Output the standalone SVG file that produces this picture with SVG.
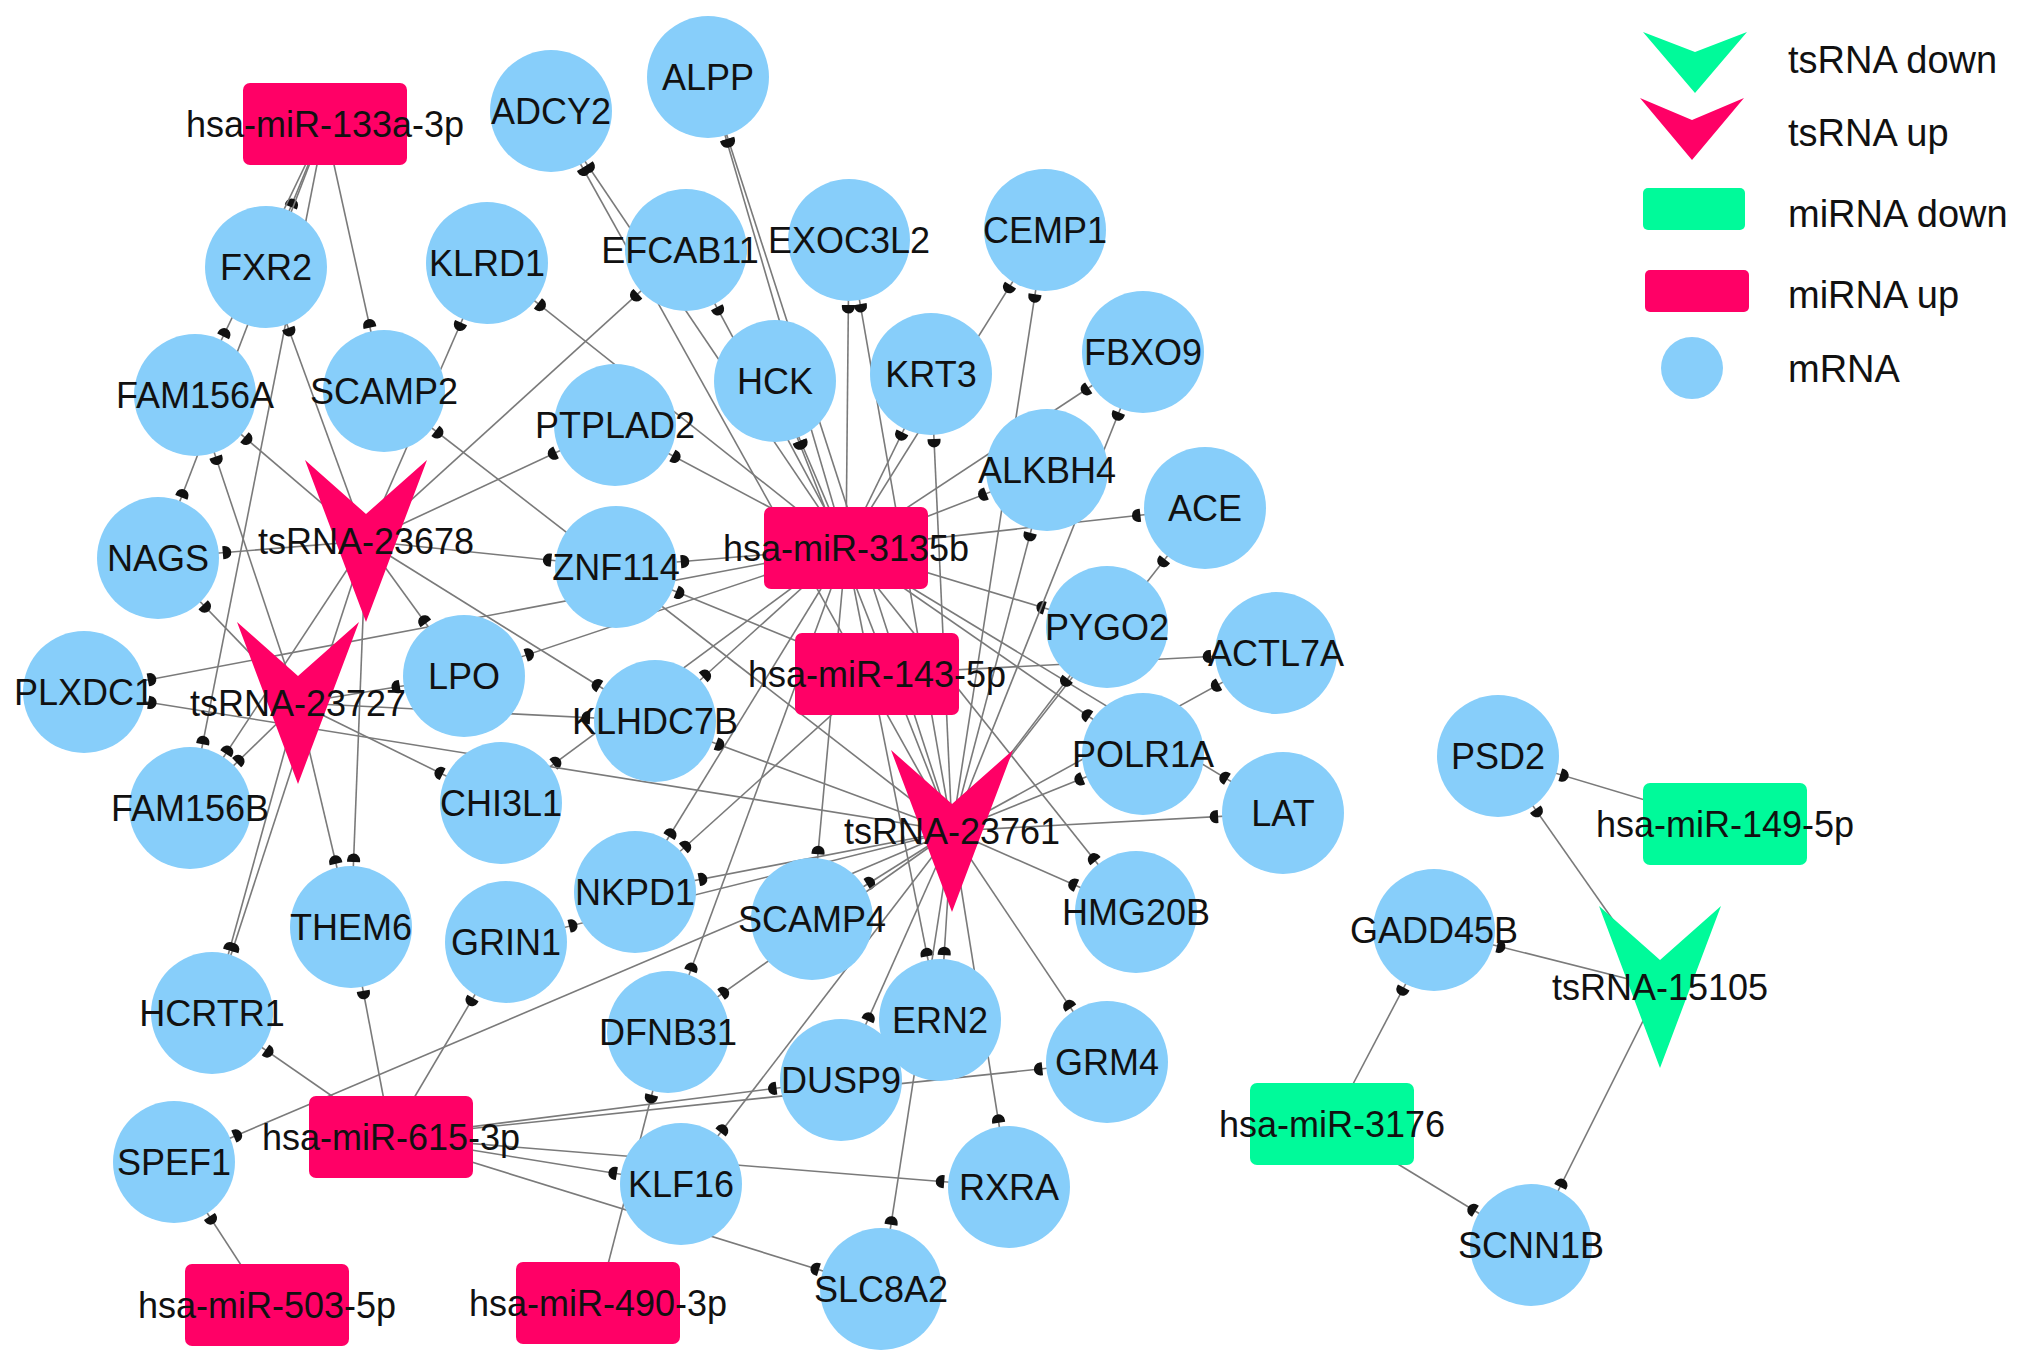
<svg xmlns="http://www.w3.org/2000/svg" width="2031" height="1365" viewBox="0 0 2031 1365">
<style>
.bg{fill:#ffffff}
.mrna{fill:#87CEFA}
.up{fill:#FF0066}
.down{fill:#00FA9A}
.lbl{font-family:"Liberation Sans",Arial,Helvetica,sans-serif;font-size:36px;fill:#111111;text-anchor:middle}
.leg{font-family:"Liberation Sans",Arial,Helvetica,sans-serif;font-size:38px;fill:#111111}
#edges line{stroke:#7a7a7a;stroke-width:1.6;marker-end:url(#tbar)}
</style>
<defs>
<marker id="tbar" markerUnits="userSpaceOnUse" markerWidth="20" markerHeight="20" refX="65" refY="0" orient="auto" style="overflow:visible">
<path d="M0,-6.5 V6.5 H-2 A6.5,6.5 0 0 1 -2,-6.5 Z" fill="#111"/>
</marker>
</defs>
<rect class="bg" x="0" y="0" width="2031" height="1365"/>
<g id="edges">
<!-- miR-133a-3p -->
<line x1="325" y1="124" x2="266" y2="267"/>
<line x1="325" y1="124" x2="195" y2="395"/>
<line x1="325" y1="124" x2="158" y2="558"/>
<line x1="325" y1="124" x2="384" y2="391"/>
<line x1="325" y1="124" x2="190" y2="808"/>
<!-- tsRNA-23678 -->
<line x1="366" y1="541" x2="266" y2="267"/>
<line x1="366" y1="541" x2="195" y2="395"/>
<line x1="366" y1="541" x2="158" y2="558"/>
<line x1="366" y1="541" x2="616" y2="567"/>
<line x1="366" y1="541" x2="615" y2="425"/>
<line x1="366" y1="541" x2="686" y2="250"/>
<line x1="366" y1="541" x2="487" y2="263"/>
<line x1="366" y1="541" x2="464" y2="676"/>
<line x1="366" y1="541" x2="655" y2="721"/>
<line x1="366" y1="541" x2="190" y2="808"/>
<line x1="366" y1="541" x2="351" y2="927"/>
<line x1="366" y1="541" x2="212" y2="1013"/>
<!-- tsRNA-23727 -->
<line x1="298" y1="703" x2="158" y2="558"/>
<line x1="298" y1="703" x2="195" y2="395"/>
<line x1="298" y1="703" x2="190" y2="808"/>
<line x1="298" y1="703" x2="464" y2="676"/>
<line x1="298" y1="703" x2="501" y2="803"/>
<line x1="298" y1="703" x2="351" y2="927"/>
<line x1="298" y1="703" x2="212" y2="1013"/>
<line x1="298" y1="703" x2="655" y2="721"/>
<!-- hsa-miR-3135b -->
<line x1="846" y1="548" x2="551" y2="111"/>
<line x1="846" y1="548" x2="708" y2="77"/>
<line x1="846" y1="548" x2="686" y2="250"/>
<line x1="846" y1="548" x2="849" y2="240"/>
<line x1="846" y1="548" x2="1045" y2="230"/>
<line x1="846" y1="548" x2="775" y2="381"/>
<line x1="846" y1="548" x2="931" y2="374"/>
<line x1="846" y1="548" x2="1143" y2="352"/>
<line x1="846" y1="548" x2="1047" y2="470"/>
<line x1="846" y1="548" x2="1205" y2="508"/>
<line x1="846" y1="548" x2="1107" y2="627"/>
<line x1="846" y1="548" x2="1143" y2="754"/>
<line x1="846" y1="548" x2="1283" y2="813"/>
<line x1="846" y1="548" x2="1136" y2="912"/>
<line x1="846" y1="548" x2="615" y2="425"/>
<line x1="846" y1="548" x2="487" y2="263"/>
<line x1="846" y1="548" x2="616" y2="567"/>
<line x1="846" y1="548" x2="464" y2="676"/>
<line x1="846" y1="548" x2="655" y2="721"/>
<line x1="846" y1="548" x2="501" y2="803"/>
<line x1="846" y1="548" x2="84" y2="692"/>
<line x1="846" y1="548" x2="635" y2="892"/>
<line x1="846" y1="548" x2="668" y2="1032"/>
<line x1="846" y1="548" x2="812" y2="919"/>
<line x1="846" y1="548" x2="940" y2="1020"/>
<!-- tsRNA-23761 -->
<line x1="952" y1="831" x2="551" y2="111"/>
<line x1="952" y1="831" x2="708" y2="77"/>
<line x1="952" y1="831" x2="849" y2="240"/>
<line x1="952" y1="831" x2="1045" y2="230"/>
<line x1="952" y1="831" x2="775" y2="381"/>
<line x1="952" y1="831" x2="931" y2="374"/>
<line x1="952" y1="831" x2="1143" y2="352"/>
<line x1="952" y1="831" x2="1047" y2="470"/>
<line x1="952" y1="831" x2="1205" y2="508"/>
<line x1="952" y1="831" x2="1107" y2="627"/>
<line x1="952" y1="831" x2="1276" y2="653"/>
<line x1="952" y1="831" x2="1143" y2="754"/>
<line x1="952" y1="831" x2="1283" y2="813"/>
<line x1="952" y1="831" x2="1136" y2="912"/>
<line x1="952" y1="831" x2="1107" y2="1062"/>
<line x1="952" y1="831" x2="1009" y2="1187"/>
<line x1="952" y1="831" x2="881" y2="1289"/>
<line x1="952" y1="831" x2="681" y2="1184"/>
<line x1="952" y1="831" x2="841" y2="1080"/>
<line x1="952" y1="831" x2="940" y2="1020"/>
<line x1="952" y1="831" x2="812" y2="919"/>
<line x1="952" y1="831" x2="635" y2="892"/>
<line x1="952" y1="831" x2="506" y2="942"/>
<line x1="952" y1="831" x2="668" y2="1032"/>
<line x1="952" y1="831" x2="174" y2="1162"/>
<line x1="952" y1="831" x2="84" y2="692"/>
<line x1="952" y1="831" x2="384" y2="391"/>
<line x1="952" y1="831" x2="655" y2="721"/>
<!-- hsa-miR-143-5p -->
<line x1="877" y1="674" x2="1276" y2="653"/>
<line x1="877" y1="674" x2="616" y2="567"/>
<line x1="877" y1="674" x2="635" y2="892"/>
<!-- hsa-miR-615-3p -->
<line x1="391" y1="1137" x2="212" y2="1013"/>
<line x1="391" y1="1137" x2="351" y2="927"/>
<line x1="391" y1="1137" x2="506" y2="942"/>
<line x1="391" y1="1137" x2="841" y2="1080"/>
<line x1="391" y1="1137" x2="1107" y2="1062"/>
<line x1="391" y1="1137" x2="681" y2="1184"/>
<line x1="391" y1="1137" x2="1009" y2="1187"/>
<line x1="391" y1="1137" x2="881" y2="1289"/>
<!-- hsa-miR-503-5p -->
<line x1="267" y1="1305" x2="174" y2="1162"/>
<!-- hsa-miR-490-3p -->
<line x1="598" y1="1303" x2="668" y2="1032"/>
<!-- hsa-miR-149-5p -->
<line x1="1725" y1="824" x2="1498" y2="756"/>
<!-- hsa-miR-3176 -->
<line x1="1332" y1="1124" x2="1434" y2="930"/>
<line x1="1332" y1="1124" x2="1531" y2="1245"/>
<!-- tsRNA-15105 -->
<line x1="1660" y1="987" x2="1498" y2="756"/>
<line x1="1660" y1="987" x2="1434" y2="930"/>
<line x1="1660" y1="987" x2="1531" y2="1245"/>
</g>
<g id="nodes">
<g id="ADCY2"><circle class="mrna" cx="551" cy="111" r="61"/><text class="lbl" x="551" y="124">ADCY2</text></g>
<g id="ALPP"><circle class="mrna" cx="708" cy="77" r="61"/><text class="lbl" x="708" y="90">ALPP</text></g>
<g id="FXR2"><circle class="mrna" cx="266" cy="267" r="61"/><text class="lbl" x="266" y="280">FXR2</text></g>
<g id="KLRD1"><circle class="mrna" cx="487" cy="263" r="61"/><text class="lbl" x="487" y="276">KLRD1</text></g>
<g id="EFCAB11"><circle class="mrna" cx="686" cy="250" r="61"/><text class="lbl" x="680" y="263">EFCAB11</text></g>
<g id="EXOC3L2"><circle class="mrna" cx="849" cy="240" r="61"/><text class="lbl" x="849" y="253">EXOC3L2</text></g>
<g id="CEMP1"><circle class="mrna" cx="1045" cy="230" r="61"/><text class="lbl" x="1045" y="243">CEMP1</text></g>
<g id="FAM156A"><circle class="mrna" cx="195" cy="395" r="61"/><text class="lbl" x="195" y="408">FAM156A</text></g>
<g id="SCAMP2"><circle class="mrna" cx="384" cy="391" r="61"/><text class="lbl" x="384" y="404">SCAMP2</text></g>
<g id="PTPLAD2"><circle class="mrna" cx="615" cy="425" r="61"/><text class="lbl" x="615" y="438">PTPLAD2</text></g>
<g id="HCK"><circle class="mrna" cx="775" cy="381" r="61"/><text class="lbl" x="775" y="394">HCK</text></g>
<g id="KRT3"><circle class="mrna" cx="931" cy="374" r="61"/><text class="lbl" x="931" y="387">KRT3</text></g>
<g id="FBXO9"><circle class="mrna" cx="1143" cy="352" r="61"/><text class="lbl" x="1143" y="365">FBXO9</text></g>
<g id="ALKBH4"><circle class="mrna" cx="1047" cy="470" r="61"/><text class="lbl" x="1047" y="483">ALKBH4</text></g>
<g id="ACE"><circle class="mrna" cx="1205" cy="508" r="61"/><text class="lbl" x="1205" y="521">ACE</text></g>
<g id="NAGS"><circle class="mrna" cx="158" cy="558" r="61"/><text class="lbl" x="158" y="571">NAGS</text></g>
<g id="ZNF114"><circle class="mrna" cx="616" cy="567" r="61"/><text class="lbl" x="616" y="580">ZNF114</text></g>
<g id="PYGO2"><circle class="mrna" cx="1107" cy="627" r="61"/><text class="lbl" x="1107" y="640">PYGO2</text></g>
<g id="ACTL7A"><circle class="mrna" cx="1276" cy="653" r="61"/><text class="lbl" x="1276" y="666">ACTL7A</text></g>
<g id="PLXDC1"><circle class="mrna" cx="84" cy="692" r="61"/><text class="lbl" x="84" y="705">PLXDC1</text></g>
<g id="LPO"><circle class="mrna" cx="464" cy="676" r="61"/><text class="lbl" x="464" y="689">LPO</text></g>
<g id="KLHDC7B"><circle class="mrna" cx="655" cy="721" r="61"/><text class="lbl" x="655" y="734">KLHDC7B</text></g>
<g id="POLR1A"><circle class="mrna" cx="1143" cy="754" r="61"/><text class="lbl" x="1143" y="767">POLR1A</text></g>
<g id="CHI3L1"><circle class="mrna" cx="501" cy="803" r="61"/><text class="lbl" x="501" y="816">CHI3L1</text></g>
<g id="FAM156B"><circle class="mrna" cx="190" cy="808" r="61"/><text class="lbl" x="190" y="821">FAM156B</text></g>
<g id="LAT"><circle class="mrna" cx="1283" cy="813" r="61"/><text class="lbl" x="1283" y="826">LAT</text></g>
<g id="PSD2"><circle class="mrna" cx="1498" cy="756" r="61"/><text class="lbl" x="1498" y="769">PSD2</text></g>
<g id="NKPD1"><circle class="mrna" cx="635" cy="892" r="61"/><text class="lbl" x="635" y="905">NKPD1</text></g>
<g id="SCAMP4"><circle class="mrna" cx="812" cy="919" r="61"/><text class="lbl" x="812" y="932">SCAMP4</text></g>
<g id="HMG20B"><circle class="mrna" cx="1136" cy="912" r="61"/><text class="lbl" x="1136" y="925">HMG20B</text></g>
<g id="THEM6"><circle class="mrna" cx="351" cy="927" r="61"/><text class="lbl" x="351" y="940">THEM6</text></g>
<g id="GRIN1"><circle class="mrna" cx="506" cy="942" r="61"/><text class="lbl" x="506" y="955">GRIN1</text></g>
<g id="GADD45B"><circle class="mrna" cx="1434" cy="930" r="61"/><text class="lbl" x="1434" y="943">GADD45B</text></g>
<g id="HCRTR1"><circle class="mrna" cx="212" cy="1013" r="61"/><text class="lbl" x="212" y="1026">HCRTR1</text></g>
<g id="DFNB31"><circle class="mrna" cx="668" cy="1032" r="61"/><text class="lbl" x="668" y="1045">DFNB31</text></g>
<g id="ERN2"><circle class="mrna" cx="940" cy="1020" r="61"/><text class="lbl" x="940" y="1033">ERN2</text></g>
<g id="GRM4"><circle class="mrna" cx="1107" cy="1062" r="61"/><text class="lbl" x="1107" y="1075">GRM4</text></g>
<g id="DUSP9"><circle class="mrna" cx="841" cy="1080" r="61"/><text class="lbl" x="841" y="1093">DUSP9</text></g>
<g id="SPEF1"><circle class="mrna" cx="174" cy="1162" r="61"/><text class="lbl" x="174" y="1175">SPEF1</text></g>
<g id="KLF16"><circle class="mrna" cx="681" cy="1184" r="61"/><text class="lbl" x="681" y="1197">KLF16</text></g>
<g id="RXRA"><circle class="mrna" cx="1009" cy="1187" r="61"/><text class="lbl" x="1009" y="1200">RXRA</text></g>
<g id="SCNN1B"><circle class="mrna" cx="1531" cy="1245" r="61"/><text class="lbl" x="1531" y="1258">SCNN1B</text></g>
<g id="SLC8A2"><circle class="mrna" cx="881" cy="1289" r="61"/><text class="lbl" x="881" y="1302">SLC8A2</text></g>

<g id="hsa-miR-133a-3p"><rect class="up" x="243" y="83" width="164" height="82" rx="7"/><text class="lbl" x="325" y="137">hsa-miR-133a-3p</text></g>
<g id="hsa-miR-3135b"><rect class="up" x="764" y="507" width="164" height="82" rx="7"/><text class="lbl" x="846" y="561">hsa-miR-3135b</text></g>
<g id="hsa-miR-143-5p"><rect class="up" x="795" y="633" width="164" height="82" rx="7"/><text class="lbl" x="877" y="687">hsa-miR-143-5p</text></g>
<g id="hsa-miR-615-3p"><rect class="up" x="309" y="1096" width="164" height="82" rx="7"/><text class="lbl" x="391" y="1150">hsa-miR-615-3p</text></g>
<g id="hsa-miR-503-5p"><rect class="up" x="185" y="1264" width="164" height="82" rx="7"/><text class="lbl" x="267" y="1318">hsa-miR-503-5p</text></g>
<g id="hsa-miR-490-3p"><rect class="up" x="516" y="1262" width="164" height="82" rx="7"/><text class="lbl" x="598" y="1316">hsa-miR-490-3p</text></g>
<g id="hsa-miR-149-5p"><rect class="down" x="1643" y="783" width="164" height="82" rx="7"/><text class="lbl" x="1725" y="837">hsa-miR-149-5p</text></g>
<g id="hsa-miR-3176"><rect class="down" x="1250" y="1083" width="164" height="82" rx="7"/><text class="lbl" x="1332" y="1137">hsa-miR-3176</text></g>

<g id="tsRNA-23678"><polygon class="up" points="305,460 366,514 427,460 366,622"/><text class="lbl" x="366" y="554">tsRNA-23678</text></g>
<g id="tsRNA-23727"><polygon class="up" points="237,622 298,676 359,622 298,784"/><text class="lbl" x="298" y="716">tsRNA-23727</text></g>
<g id="tsRNA-23761"><polygon class="up" points="891,750 952,804 1013,750 952,912"/><text class="lbl" x="952" y="844">tsRNA-23761</text></g>
<g id="tsRNA-15105"><polygon class="down" points="1599,906 1660,960 1721,906 1660,1068"/><text class="lbl" x="1660" y="1000">tsRNA-15105</text></g>
</g>
<g id="legend">
<polygon class="down" points="1643,32 1695,52 1747,32 1695,93"/>
<text class="leg" x="1788" y="73">tsRNA down</text>
<polygon class="up" points="1640,98 1692,120 1744,98 1692,160"/>
<text class="leg" x="1788" y="146">tsRNA up</text>
<rect class="down" x="1643" y="188" width="102" height="42" rx="5"/>
<text class="leg" x="1788" y="227">miRNA down</text>
<rect class="up" x="1645" y="270" width="104" height="42" rx="5"/>
<text class="leg" x="1788" y="308">miRNA up</text>
<circle class="mrna" cx="1692" cy="368" r="31"/>
<text class="leg" x="1788" y="382">mRNA</text>
</g>
</svg>
